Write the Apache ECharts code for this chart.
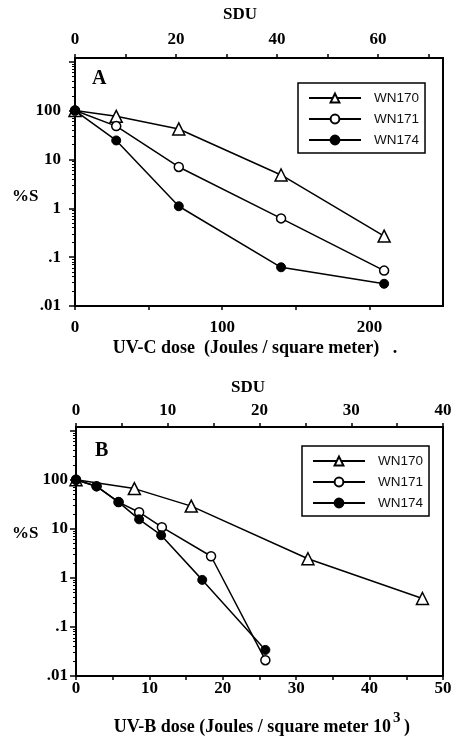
<!DOCTYPE html>
<html>
<head>
<meta charset="utf-8">
<script src="https://cdn.jsdelivr.net/npm/echarts@6/dist/echarts.min.js"></script>
<style>
  html, body { margin: 0; padding: 0; background: #fff; }
  #main { width: 456px; height: 737px; }
</style>
</head>
<body>
<div id="main"></div>
<script>
// panel A : UV-C dose (J/m2) vs %S
const doseA = [0, 28, 70.5, 140, 210]
const a170 = [100, 76, 42, 4.8, 0.27]
const a171 = [100, 48, 7.0, 0.62, 0.053]
const a174 = [100, 24.4, 1.1, 0.062, 0.0285]

// panel B : UV-B dose (J/m2 x 10^3) vs %S
const doseB170 = [0, 7.95, 15.7, 31.6, 47.2]
const b170 = [100, 66, 29, 2.45, 0.38]
const doseB171 = [0, 2.8, 5.8, 8.6, 11.7, 18.4, 25.8]
const b171 = [100, 74, 35, 21.8, 10.8, 2.76, 0.021]
const doseB174 = [0, 2.8, 5.8, 8.6, 11.6, 17.2, 25.8]
const b174 = [100, 73, 35, 15.6, 7.4, 0.91, 0.034]

const strains = ['WN170', 'WN171', 'WN174']
const yLabels = { '-2': '.01', '-1': '.1', '0': '1', '1': '10', '2': '100' }

const yLowExp = -2
const yTopExp = 3.075
const yMin = Math.pow(10, yLowExp)
const yMax = Math.pow(10, yTopExp)

// fine grid in log10 units, only used to place the little 2..9 minor ticks
const logStep = 0.001
const fineCats = []
for (let i = 0; i <= Math.round((yTopExp - yLowExp) / logStep); i++) fineCats.push(String(i))
const minorIdx = new Set()
for (let e = yLowExp; e <= 3; e++) {
  for (let k = 2; k <= 9; k++) {
    const idx = Math.round((Math.log10(k) + e - yLowExp) / logStep)
    if (idx < fineCats.length) minorIdx.add(idx)
  }
}

const pair = (xs, ys) => xs.map((x, i) => [x, ys[i]])
const serif = 'Liberation Serif'
const lab = { color: '#000', fontFamily: serif, fontWeight: 'bold', fontSize: 17 }
const lineAx = { show: true, lineStyle: { color: '#000', width: 2 } }
const txt = (size) => 'bold ' + size + 'px "Liberation Serif"'

const gridA = { left: 75, right: 13, top: 58, height: 248 }
const gridB = { left: 76, right: 13, top: 427, height: 249 }

const symbolStyle = {
  WN170: { symbol: 'triangle', symbolSize: 12, itemStyle: { color: '#fff', borderColor: '#000', borderWidth: 1.5 } },
  WN171: { symbol: 'circle', symbolSize: 9, itemStyle: { color: '#fff', borderColor: '#000', borderWidth: 1.5 } },
  WN174: { symbol: 'circle', symbolSize: 9, itemStyle: { color: '#000', borderColor: '#000', borderWidth: 1 } }
}

function mkSeries (name, data, xi, yi) {
  return {
    name: name,
    type: 'line',
    xAxisIndex: xi,
    yAxisIndex: yi,
    data: data,
    showAllSymbol: true,
    lineStyle: { color: '#000', width: 1.5 },
    ...symbolStyle[name],
    z: name === 'WN174' ? 3 : 2
  }
}

function yAxisCfg (gi, margin) {
  return {
    type: 'log',
    gridIndex: gi,
    position: 'left',
    logBase: 10,
    min: yMin,
    max: yMax,
    axisLine: lineAx,
    axisTick: { show: true, length: 6, lineStyle: { color: '#000', width: 1.5 } },
    splitLine: { show: false },
    axisLabel: {
      ...lab,
      margin: margin,
      showMaxLabel: false,
      formatter: (v) => {
        const e = Math.round(Math.log10(v) * 1000) / 1000
        return yLabels[String(e)] || ''
      }
    }
  }
}

// thin helper grid on the left edge of each panel: draws only the log minor ticks
function tickGrid (g) {
  return { left: g.left, width: 1, top: g.top, height: g.height, show: false }
}

function yMinorCfg (gi) {
  return {
    type: 'category',
    gridIndex: gi,
    data: fineCats,
    boundaryGap: false,
    position: 'left',
    axisLine: { show: false },
    axisLabel: { show: false },
    splitLine: { show: false },
    axisTick: {
      show: true,
      length: 3,
      interval: (idx) => minorIdx.has(idx),
      lineStyle: { color: '#000', width: 1 }
    }
  }
}

function xAxisCfg (gi, pos, max, interval, labelStep, minor, margin) {
  return {
    type: 'value',
    gridIndex: gi,
    position: pos,
    min: 0,
    max: max,
    interval: interval,
    axisLine: { ...lineAx, onZero: false },
    axisTick: { show: true, length: 4, lineStyle: { color: '#000', width: 1.5 } },
    minorTick: { show: minor, splitNumber: 2, length: 4, lineStyle: { color: '#000', width: 1.5 } },
    splitLine: { show: false },
    axisLabel: {
      ...lab,
      margin: margin,
      showMaxLabel: max % labelStep === 0,
      formatter: (v) => (Math.abs(v / labelStep - Math.round(v / labelStep)) < 1e-6 ? String(v) : '')
    }
  }
}

function legendCfg (left, top) {
  return {
    data: strains,
    orient: 'vertical',
    left: left,
    top: top,
    itemWidth: 52,
    itemHeight: 11,
    itemGap: 7,
    padding: [8, 6, 6, 10],
    borderColor: '#000',
    borderWidth: 1.5,
    backgroundColor: '#fff',
    selectedMode: false,
    textStyle: { fontFamily: 'Liberation Sans', fontSize: 13.5, color: '#111', padding: [0, 0, 0, 8] }
  }
}

const myChart = echarts.init(document.getElementById('main'), null, { renderer: 'canvas' })

const option = {
  animation: false,
  backgroundColor: '#fff',
  grid: [
    { ...gridA, show: true, borderColor: '#000', borderWidth: 2 },
    { ...gridB, show: true, borderColor: '#000', borderWidth: 2 },
    tickGrid(gridA),
    tickGrid(gridB)
  ],
  xAxis: [
    xAxisCfg(0, 'bottom', 250, 50, 100, false, 13),
    xAxisCfg(0, 'top', 72.9, 10, 20, false, 10),
    xAxisCfg(1, 'bottom', 50, 10, 10, true, 4),
    xAxisCfg(1, 'top', 40, 10, 10, true, 8),
    { type: 'value', gridIndex: 2, show: false },
    { type: 'value', gridIndex: 3, show: false }
  ],
  yAxis: [yAxisCfg(0, 14), yAxisCfg(1, 8), yMinorCfg(2), yMinorCfg(3)],
  legend: [legendCfg(298, 83), legendCfg(302, 446)],
  graphic: [
    { type: 'text', left: 92, top: 69, style: { text: 'A', font: txt(20), fill: '#000' } },
    { type: 'text', left: 95, top: 441, style: { text: 'B', font: txt(20), fill: '#000' } },
    { type: 'text', left: 12, top: 188, style: { text: '%S', font: txt(17), fill: '#000' } },
    { type: 'text', left: 12, top: 525, style: { text: '%S', font: txt(17), fill: '#000' } },
    { type: 'text', x: 240, y: 15, style: { text: 'SDU', font: txt(17), fill: '#000', align: 'center', verticalAlign: 'middle' } },
    { type: 'text', x: 248, y: 388, style: { text: 'SDU', font: txt(17), fill: '#000', align: 'center', verticalAlign: 'middle' } },
    { type: 'text', x: 255, y: 348, style: { text: 'UV-C dose  (Joules / square meter)   .', font: txt(18), fill: '#000', align: 'center', verticalAlign: 'middle' } },
    { type: 'text', x: 391, y: 727, style: { text: 'UV-B dose (Joules / square meter 10', font: txt(18), fill: '#000', align: 'right', verticalAlign: 'middle' } },
    { type: 'text', x: 393, y: 718, style: { text: '3', font: txt(15), fill: '#000', align: 'left', verticalAlign: 'middle' } },
    { type: 'text', x: 404, y: 727, style: { text: ')', font: txt(18), fill: '#000', align: 'left', verticalAlign: 'middle' } }
  ],
  series: [
    mkSeries('WN170', pair(doseA, a170), 0, 0),
    mkSeries('WN171', pair(doseA, a171), 0, 0),
    mkSeries('WN174', pair(doseA, a174), 0, 0),
    mkSeries('WN170', pair(doseB170, b170), 2, 1),
    mkSeries('WN171', pair(doseB171, b171), 2, 1),
    mkSeries('WN174', pair(doseB174, b174), 2, 1)
  ]
}

myChart.setOption(option)
</script>
</body>
</html>
